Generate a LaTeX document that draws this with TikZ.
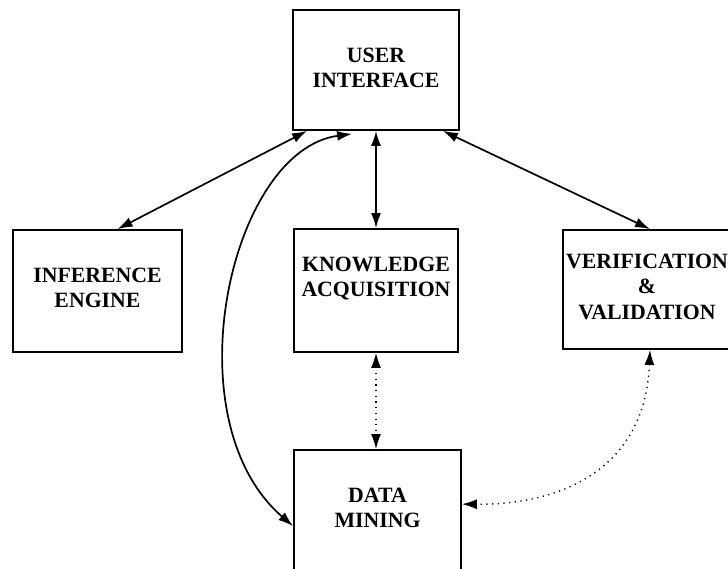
\documentclass[tikz,border=0pt]{standalone}
\usepackage{fontspec}
\setmainfont{Liberation Serif}
\usetikzlibrary{arrows.meta,calc}
\begin{document}
\begin{tikzpicture}[x=1pt,y=-1pt,
  box/.style={draw,line width=1.8pt,inner sep=0pt},
  lbl/.style={align=center,font=\bfseries\fontsize{21.8}{25.5}\selectfont},
  conn/.style={line width=1.7pt,{Latex[length=15pt,width=10pt]}-{Latex[length=15pt,width=10pt]}},
  dconn/.style={line width=1.4pt,dash pattern=on 1.2pt off 4.5pt,{Latex[length=15pt,width=10pt]}-{Latex[length=15pt,width=10pt]}}]
\path[use as bounding box] (0,0) rectangle (728,568);
\clip (0,0) rectangle (728,568);
\node[box,minimum width=166pt,minimum height=120pt,
  label={[lbl,yshift=2pt]center:USER\\INTERFACE}] (ui) at (376,70) {};
\node[box,minimum width=169pt,minimum height=122pt,
  label={[lbl,yshift=3pt]center:INFERENCE\\ENGINE}] (ie) at (97.5,291) {};
\node[box,minimum width=164pt,minimum height=123pt,
  label={[lbl,yshift=12pt]center:KNOWLEDGE\\ACQUISITION}] (ka) at (376,290.5) {};
\node[box,minimum width=168pt,minimum height=119pt,
  label={[lbl,yshift=3pt]center:VERIFICATION\\\&\\VALIDATION}] (vv) at (647,289.5) {};
\node[box,minimum width=167pt,minimum height=150pt,
  label={[lbl,yshift=17pt]center:DATA\\MINING}] (dm) at (377.5,525) {};
% connectors
\draw[conn] ($(ui.south west)+(15,0)$) -- ($(ie.north)+(20,0)$);
\draw[conn] (ui.south) -- (ka.north);
\draw[conn] ($(ui.south east)+(-17,0)$) -- ($(vv.north)+(3,0)$);
\draw[conn] ($(ui.south west)+(60,3)$) .. controls (230,150) and (170,420) .. ($(dm.north west)+(0,77)$);
\draw[dconn] (ka.south) -- (ka.south |- dm.north);
\draw[dconn] ($(vv.south)+(3,0)$) .. controls (645,470) and (560,505) .. ($(dm.north east)+(0,55)$);
\end{tikzpicture}
\end{document}
